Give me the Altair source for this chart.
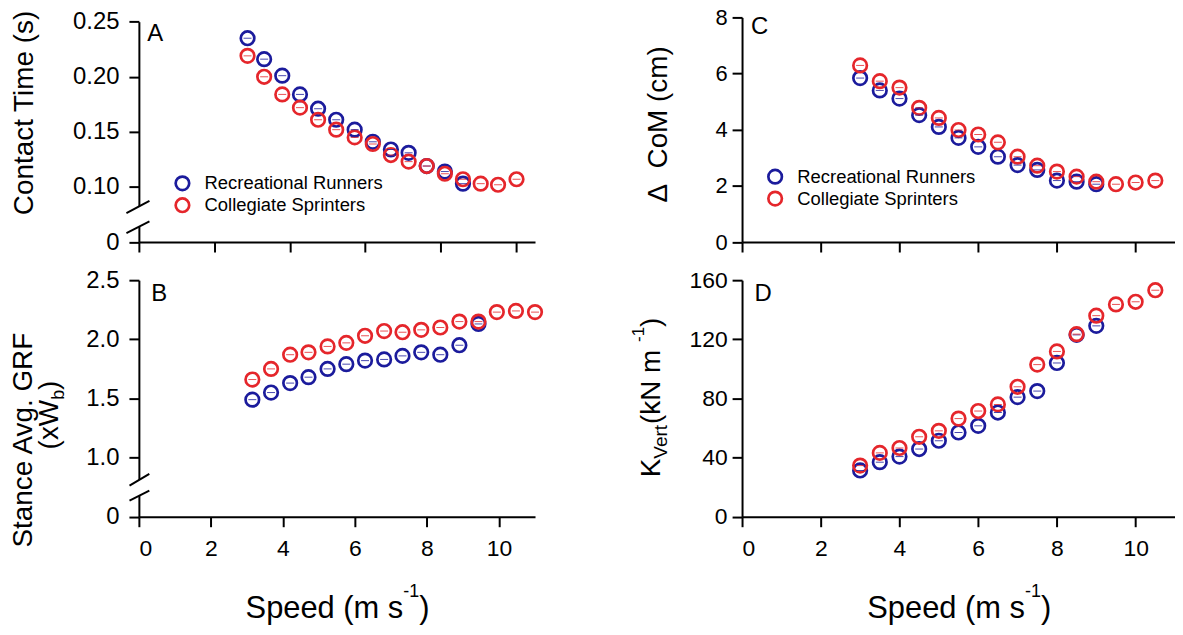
import altair as alt
import pandas as pd

FONT = "Liberation Sans"
GROUPS = ["Recreational Runners", "Collegiate Sprinters"]
COLORS = ["#1b1b9c", "#e5262b"]

# ---------------- data ----------------
# Panel A: contact time (s)
a_speed_rr = [2.88, 3.32, 3.80, 4.27, 4.75, 5.23, 5.72, 6.20, 6.68, 7.15, 7.63, 8.11, 8.59]
a_time_rr = [0.235, 0.216, 0.201, 0.184, 0.171, 0.161, 0.152, 0.141, 0.134, 0.131, 0.119, 0.114, 0.103]
a_speed_cs = [2.88, 3.32, 3.80, 4.27, 4.75, 5.23, 5.72, 6.20, 6.68, 7.15, 7.63, 8.11, 8.59, 9.06, 9.52, 10.01]
a_time_cs = [0.219, 0.200, 0.184, 0.172, 0.161, 0.152, 0.145, 0.139, 0.129, 0.123, 0.119, 0.112, 0.107, 0.103, 0.102, 0.107]

# Panel B: stance average GRF (xWb)
b_speed_rr = [3.15, 3.67, 4.20, 4.71, 5.24, 5.76, 6.28, 6.81, 7.32, 7.84, 8.37, 8.90, 9.43]
b_grf_rr = [1.49, 1.55, 1.63, 1.68, 1.75, 1.79, 1.82, 1.83, 1.86, 1.89, 1.87, 1.95, 2.13]
b_speed_cs = [3.15, 3.67, 4.20, 4.71, 5.24, 5.76, 6.28, 6.81, 7.32, 7.84, 8.37, 8.90, 9.43, 9.94, 10.47, 11.0]
b_grf_cs = [1.66, 1.75, 1.87, 1.89, 1.94, 1.97, 2.03, 2.07, 2.06, 2.08, 2.10, 2.15, 2.15, 2.23, 2.24, 2.23]

# Panels C and D
cd_speed_rr = [3.0, 3.5, 4.0, 4.5, 5.0, 5.5, 6.0, 6.5, 7.0, 7.5, 8.0, 8.5, 9.0]
cd_speed_cs = [3.0, 3.5, 4.0, 4.5, 5.0, 5.5, 6.0, 6.5, 7.0, 7.5, 8.0, 8.5, 9.0, 9.5, 10.0, 10.5]
c_com_rr = [5.84, 5.40, 5.11, 4.52, 4.10, 3.71, 3.39, 3.04, 2.74, 2.57, 2.19, 2.15, 2.06]
c_com_cs = [6.29, 5.73, 5.50, 4.78, 4.42, 3.99, 3.83, 3.55, 3.04, 2.72, 2.51, 2.33, 2.15, 2.06, 2.12, 2.19]
d_k_rr = [31.3, 36.9, 40.7, 45.8, 51.4, 57.0, 61.5, 70.5, 80.9, 85.0, 104.0, 123.0, 129.1]
d_k_cs = [34.6, 43.2, 46.5, 54.1, 58.1, 66.4, 71.5, 76.0, 87.9, 102.9, 111.8, 123.5, 136.0, 143.6, 145.4, 153.2]

# axis ticks
a_yticks = [0.05, 0.10, 0.15, 0.20, 0.25]
b_yticks = [0.5, 1.0, 1.5, 2.0, 2.5]
c_yticks = [0, 2, 4, 6, 8]
d_yticks = [0, 40, 80, 120, 160]

# axis-break positions (data units): slash start/end and gap
a_break = {"x1": [-0.33, -0.33], "x2": [0.28, 0.28], "y1": [0.0762, 0.0581], "y2": [0.0874, 0.0687], "gap": [0.0826, 0.0638]}
b_break = {"x1": [-0.26, -0.26], "x2": [0.29, 0.29], "y1": [0.763, 0.637], "y2": [0.862, 0.721], "gap": [0.811, 0.677]}

CW = {'S': 667, 'p': 556, 'e': 556, 'd': 556, ' ': 278, '(': 333, ')': 333, 'm': 833, 's': 500,
      '-': 333, '1': 556, 'K': 667, 'V': 667, 'r': 333, 't': 278, 'k': 500, 'N': 722, 'x': 500,
      'W': 944, 'b': 556}


def tw(s, size):
    return sum(CW[c] for c in s) / 1000 * size


def frame(s_rr, v_rr, s_cs, v_cs):
    return pd.DataFrame({
        "speed": s_rr + s_cs,
        "value": v_rr + v_cs,
        "group": [GROUPS[0]] * len(s_rr) + [GROUPS[1]] * len(s_cs),
    })


def txt(t, x, y, size, angle=0, align="left", baseline="alphabetic"):
    return alt.Chart(pd.DataFrame({"t": [t]})).mark_text(
        text=t, font=FONT, fontSize=size, angle=angle, align=align, baseline=baseline, color="black"
    ).encode(x=alt.value(x), y=alt.value(y))


def rot_pieces(x0, y0, pieces):
    out = []
    y = y0
    for t, size, shift in pieces:
        out.append(txt(t, x0 + shift, y, size, angle=270))
        y -= tw(t, size)
    return out


def hor_pieces(x0, y0, pieces):
    out = []
    x = x0
    for t, size, shift in pieces:
        out.append(txt(t, x, y0 + shift, size))
        x += tw(t, size)
    return out


def panel(df, xmax, yscale, yvals, ylabel_expr, show_xlabels, legend, ylab_size, ylab_pad):
    xaxis = alt.Axis(
        values=list(range(0, int(xmax) + 1)),
        labels=show_xlabels,
        labelExpr="datum.value % 2 === 0 ? datum.label : ''",
        tickSize={"condition": {"test": "datum.value % 2 === 0", "value": 10}, "value": 7},
        labelPadding=11, labelFontSize=23,
        title=None,
    )
    yaxis = alt.Axis(values=yvals, labelExpr=ylabel_expr, tickSize=10, labelPadding=ylab_pad,
                     labelFontSize=ylab_size, title=None)
    x = alt.X("speed:Q", scale=alt.Scale(domain=[0, xmax], nice=False, zero=False), axis=xaxis)
    y = alt.Y("value:Q", scale=yscale, axis=yaxis)
    color = alt.Color("group:N", scale=alt.Scale(domain=GROUPS, range=COLORS), legend=legend)
    pts = alt.Chart(df).mark_point(shape="circle", filled=False, size=185, strokeWidth=2.7, opacity=1).encode(
        x=x, y=y, color=color)
    layers = [pts]
    for g, c in zip(GROUPS, COLORS):
        layers.append(alt.Chart(df).transform_filter(alt.datum.group == g).mark_tick(
            orient="horizontal", size=8, thickness=1, color=c, opacity=0.8).encode(x="speed:Q", y="value:Q"))
    return layers


def break_layers(br):
    gap = alt.Chart(pd.DataFrame({"speed": [0.0], "value": [br["gap"][0]], "value2": [br["gap"][1]]})).mark_rule(
        color="white", strokeWidth=5).encode(x="speed:Q", y="value:Q", y2="value2:Q")
    sl = alt.Chart(pd.DataFrame({"speed": br["x1"], "speed2": br["x2"], "value": br["y1"], "value2": br["y2"]})).mark_rule(
        color="black", strokeWidth=2).encode(x="speed:Q", x2="speed2:Q", y="value:Q", y2="value2:Q")
    return [gap, sl]


def legend_at(lx, ly):
    return alt.Legend(orient="none", legendX=lx, legendY=ly, title=None, labelFont=FONT, labelFontSize=18.5,
                      labelColor="black", labelLimit=0, symbolSize=185, symbolStrokeWidth=2.7,
                      symbolType="circle", labelOffset=13, rowPadding=3, clipHeight=18, padding=0)


TF = 28   # title font
H1, H2 = 225.7, 237.7
WL, WR = 398, 435

# ---- Panel A ----
dfa = frame(a_speed_rr, a_time_rr, a_speed_cs, a_time_cs)
layA = panel(dfa, 10.5, alt.Scale(domain=[0.05, 0.25], range=[H1, 4.3], nice=False, zero=False),
             a_yticks, "datum.value < 0.07 ? '0' : format(datum.value, '.2f')", False, legend_at(34.5, 157.7),
             24, 10)
layA += break_layers(a_break)
layA += [txt("A", 8.5, 23.3, 24), txt("Contact Time (s)", -106.5, 96, TF, angle=270, align="center")]
chartA = alt.layer(*layA).properties(width=WL, height=H1)

# ---- Panel B ----
dfb = frame(b_speed_rr, b_grf_rr, b_speed_cs, b_grf_cs)
layB = panel(dfb, 11, alt.Scale(domain=[0.5, 2.5], nice=False, zero=False),
             b_yticks, "datum.value < 0.7 ? '0' : format(datum.value, '.1f')", True, None, 24, 10)
layB += break_layers(b_break)
layB += [txt("B", 12.5, 21.4, 24), txt("Stance Avg. GRF", -107.5, 160.7, TF, angle=270, align="center")]
layB += rot_pieces(-81, 170, [("(xW", TF, 0), ("b", 18, 6), (")", TF, 0)])
layB += hor_pieces(107.2, 339.7, [("Speed (m s", 31, 0), ("-1", 18, -21), (")", 31, 0)])
chartB = alt.layer(*layB).properties(width=WL, height=H2)

# ---- Panel C ----
dfc = frame(cd_speed_rr, c_com_rr, cd_speed_cs, c_com_cs)
layC = panel(dfc, 11, alt.Scale(domain=[0, 8], nice=False, zero=False),
             c_yticks, "datum.label", False, legend_at(24, 151), 22, 5)
layC += [txt("C", 9, 16.7, 24), txt("\u0394\u00a0 CoM (cm)", -75.5, 107.5, TF, angle=270, align="center")]
chartC = alt.layer(*layC).properties(width=WR, height=H1)

# ---- Panel D ----
dfd = frame(cd_speed_rr, d_k_rr, cd_speed_cs, d_k_cs)
layD = panel(dfd, 11, alt.Scale(domain=[0, 160], nice=False, zero=False),
             d_yticks, "datum.label", True, None, 23, 5)
layD += [txt("D", 12.5, 21.4, 24)]
layD += rot_pieces(-82.5, 198, [("K", TF, 0), ("Vert", 19, 7), (" (kN m", TF, 0), ("-1", 17, -16), (")", TF, 0)])
layD += hor_pieces(125.8, 339.7, [("Speed (m s", 31, 0), ("-1", 18, -21), (")", 31, 0)])
chartD = alt.layer(*layD).properties(width=WR, height=H2)

chart = alt.concat(
    chartA, chartC, chartB, chartD, columns=2,
    spacing={"row": 38, "column": 208}, bounds="flush", align="each",
).resolve_scale(color="independent").resolve_legend(color="independent").properties(
    padding={"left": 1.5, "top": -3, "right": 0, "bottom": 0}
).configure(font=FONT).configure_view(stroke=None).configure_axis(
    domainColor="black", domainWidth=2, tickColor="black", tickWidth=2, labelColor="black",
    labelFont=FONT, labelFontSize=22, grid=False,
)

chart.save("out.html", embed_options={"renderer": "svg", "actions": False})
